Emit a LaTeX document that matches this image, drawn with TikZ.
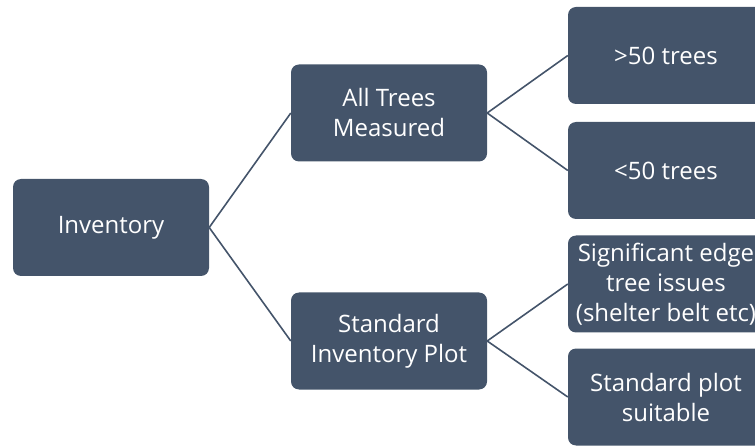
\documentclass[tikz,border=0pt]{standalone}
\usepackage{fontspec}
\setmainfont{Open Sans}[Ligatures=CommonOff]
\definecolor{boxblue}{RGB}{68,84,106}
\tikzset{
  box/.style={draw=none, fill=boxblue, rounded corners=8pt, minimum width=196pt,
    minimum height=97pt, inner sep=0pt, align=center, text=white,
    font=\fontsize{24}{30}\selectfont},
  link/.style={draw=boxblue, line width=1.6pt}
}
\begin{document}
\begin{tikzpicture}[x=1pt, y=-1pt]
  \useasboundingbox (0,0) rectangle (755,446);
  \clip (0,0) rectangle (755,446);
  % root and the two survey methods
  \node[box] (inv) at (111,227.5) {Inventory};
  \node[box] (all) at (389,113) {All Trees\\Measured};
  \node[box] (std) at (389,341) {Standard\\Inventory Plot};
  % leaf outcomes
  \node[box] (gt) at (666,55.5) {>50 trees};
  \node[box] (lt) at (666,170.5) {<50 trees};
  \node[box] (edge) at (666,284) {Significant edge\\tree issues\\(shelter belt etc)};
  \node[box] (plot) at (666,397) {Standard plot\\suitable};
  % connectors
  \draw[link] (inv.east) -- (all.west);
  \draw[link] (inv.east) -- (std.west);
  \draw[link] (all.east) -- (gt.west);
  \draw[link] (all.east) -- (lt.west);
  \draw[link] (std.east) -- (edge.west);
  \draw[link] (std.east) -- (plot.west);
\end{tikzpicture}
\end{document}
